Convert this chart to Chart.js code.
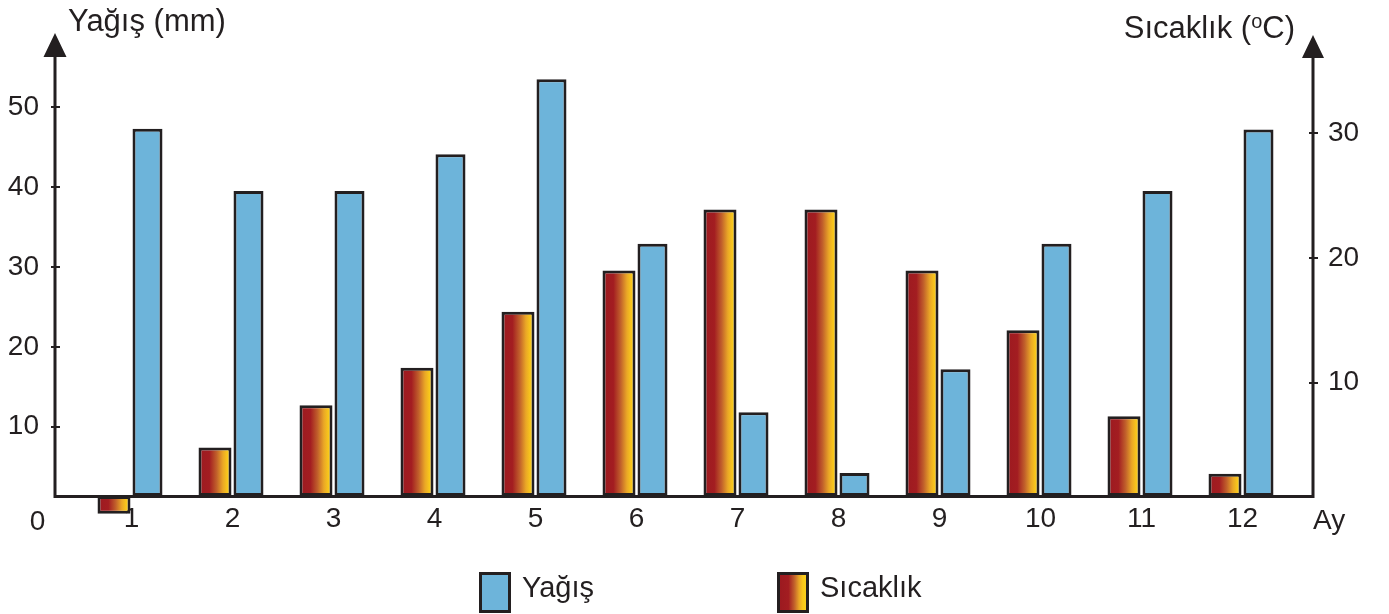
<!DOCTYPE html>
<html>
<head>
<meta charset="utf-8">
<script src="https://cdn.jsdelivr.net/npm/chart.js@4.4.1/dist/chart.umd.min.js"></script>
<style>
  html, body { margin: 0; padding: 0; background: #ffffff; }
  #wrap { position: relative; width: 1389px; height: 614px; overflow: hidden; }
  #c { position: absolute; left: 0; top: 0; }
  .lg-box { position: absolute; box-sizing: border-box; border: 3px solid #231f20; }
  .lg-text { position: absolute; font-family: 'Liberation Sans', Arial, sans-serif; font-size: 29px; line-height: 29px; color: #231f20; white-space: nowrap; }
</style>
</head>
<body>
<div id="wrap">
  <canvas id="c" width="1389" height="614"></canvas>
  <div id="legend"></div>
</div>
<script>
// ---- data ----
const monthLabels = ['1','2','3','4','5','6','7','8','9','10','11','12'];
const monthValues = [1,2,3,4,5,6,7,8,9,10,11,12];
const precipitation = [47.3, 39.5, 39.5, 44.1, 53.5, 32.9, 11.8, 4.2, 17.2, 32.9, 39.5, 47.2];
const temperature = [-0.5, 4.8, 8.2, 11.2, 15.7, 19.0, 23.9, 23.9, 19.0, 14.2, 7.3, 2.7];
const precipTicks = [10, 20, 30, 40, 50];
const tempTicks = [10, 20, 30];
const seriesNames = ['Yağış', 'Sıcaklık'];
const precipTitle = 'Yağış (mm)';
const tempTitleParts = ['Sıcaklık (', 'o', 'C)'];
const originLabel = '0';
const xAxisTitle = 'Ay';

// ---- style / scale geometry ----
const INK = '#231f20';
const BLUE = '#6db4da';
const FONT = "'Liberation Sans', Arial, Helvetica, sans-serif";
const precipMin = 1.315, precipMax = 56.29;
const tempMin = 0.914, tempMax = 36.12;
const tempCP = 70 / 101, tempBP = 33 / 35;
const precipCP = 64 / 101, precipBP = 30 / 32;
const gradStops = [[0, '#9c1a20'], [0.33, '#a31d21'], [0.55, '#c1602b'], [0.74, '#eaa726'], [0.88, '#f9c81b'], [1, '#fbd01a']];

function makeGrad(ctx2d, x0, x1) {
  const g = ctx2d.createLinearGradient(x0, 0, x1, 0);
  gradStops.forEach(s => g.addColorStop(s[0], s[1]));
  return g;
}

function tempFill(context) {
  const chart = context.chart;
  const xs = chart.scales && chart.scales.x;
  if (!xs || context.type !== 'data') return '#c0602b';
  const c = xs.getPixelForValue(monthValues[context.dataIndex]);
  const unit = xs.getPixelForValue(2) - xs.getPixelForValue(1);
  if (!isFinite(c) || !isFinite(unit) || unit <= 0) return '#c0602b';
  const chunk = unit * tempCP / 2;
  const w = chunk * tempBP;
  const left = c - chunk + (chunk - w) / 2;
  return makeGrad(chart.ctx, left, left + w);
}

const decor = {
  id: 'decor',
  afterDatasetsDraw(chart) {
    const { ctx, chartArea: a, scales } = chart;
    ctx.save();
    ctx.strokeStyle = INK;
    ctx.fillStyle = INK;
    ctx.lineCap = 'butt';
    ctx.lineWidth = 3;
    ctx.beginPath();
    ctx.moveTo(a.left, 52); ctx.lineTo(a.left, a.bottom + 0.5);
    ctx.moveTo(a.right, 52); ctx.lineTo(a.right, a.bottom + 0.5);
    ctx.moveTo(a.left - 1.5, a.bottom + 0.5); ctx.lineTo(a.right + 1.5, a.bottom + 0.5);
    ctx.stroke();
    ctx.beginPath();
    ctx.moveTo(a.left, 33); ctx.lineTo(a.left - 11.5, 57); ctx.lineTo(a.left + 11.5, 57); ctx.closePath();
    ctx.moveTo(a.right, 35); ctx.lineTo(a.right - 11, 58); ctx.lineTo(a.right + 11, 58); ctx.closePath();
    ctx.fill();
    ctx.lineWidth = 2;
    ctx.beginPath();
    precipTicks.forEach(v => {
      const y = Math.round(scales.y.getPixelForValue(v));
      ctx.moveTo(a.left - 4, y); ctx.lineTo(a.left + 5, y);
    });
    tempTicks.forEach(v => {
      const y = Math.round(scales.y2.getPixelForValue(v));
      ctx.moveTo(a.right - 4, y); ctx.lineTo(a.right + 5, y);
    });
    ctx.stroke();
    ctx.textBaseline = 'alphabetic';
    ctx.textAlign = 'left';
    ctx.font = '31px ' + FONT;
    ctx.fillText(precipTitle, 68, 31);
    const bigFont = '31px ' + FONT, smallFont = '20px ' + FONT;
    ctx.font = bigFont;
    const w0 = ctx.measureText(tempTitleParts[0]).width;
    const w2 = ctx.measureText(tempTitleParts[2]).width;
    ctx.font = smallFont;
    const w1 = ctx.measureText(tempTitleParts[1]).width;
    let x = 1295 - (w0 + w1 + w2);
    const base = 38;
    ctx.font = bigFont; ctx.fillText(tempTitleParts[0], x, base); x += w0;
    ctx.font = smallFont; ctx.fillText(tempTitleParts[1], x, base - 10); x += w1;
    ctx.font = bigFont; ctx.fillText(tempTitleParts[2], x, base);
    ctx.font = '28px ' + FONT;
    ctx.textAlign = 'center';
    ctx.fillText(originLabel, 37.5, 530);
    ctx.textAlign = 'left';
    ctx.fillText(xAxisTitle, 1313, 529);
    ctx.restore();
  }
};

const htmlLegend = {
  id: 'htmlLegend',
  afterUpdate(chart) {
    const host = document.getElementById('legend');
    host.innerHTML = '';
    const lefts = [479, 777];
    const order = [1, 0];
    order.forEach((di, k) => {
      const ds = chart.data.datasets[di];
      const box = document.createElement('div');
      box.className = 'lg-box';
      box.style.left = lefts[k] + 'px';
      box.style.top = '572px';
      box.style.width = '32px';
      box.style.height = '41px';
      if (di === 0) {
        box.style.background = 'linear-gradient(to right,' + gradStops.map(s => s[1] + ' ' + (s[0] * 100) + '%').join(',') + ')';
      } else {
        box.style.background = BLUE;
      }
      const t = document.createElement('div');
      t.className = 'lg-text';
      t.style.left = (lefts[k] + 43) + 'px';
      t.style.top = '573px';
      t.textContent = ds.label;
      host.appendChild(box);
      host.appendChild(t);
    });
  }
};

Chart.defaults.font.family = FONT;
Chart.defaults.color = INK;

new Chart(document.getElementById('c'), {
  type: 'bar',
  data: {
    datasets: [
      {
        label: seriesNames[1],
        data: monthValues.map((m, i) => ({ x: m, y: temperature[i] })),
        yAxisID: 'y2',
        base: tempMin,
        backgroundColor: tempFill,
        borderColor: INK,
        borderWidth: 3,
        borderSkipped: false,
        categoryPercentage: tempCP,
        barPercentage: tempBP,
        clip: false
      },
      {
        label: seriesNames[0],
        data: monthValues.map((m, i) => ({ x: m, y: precipitation[i] })),
        yAxisID: 'y',
        base: precipMin,
        backgroundColor: BLUE,
        borderColor: INK,
        borderWidth: 3,
        borderSkipped: false,
        categoryPercentage: precipCP,
        barPercentage: precipBP,
        clip: false
      }
    ]
  },
  options: {
    responsive: false,
    devicePixelRatio: 1,
    animation: false,
    layout: { padding: { top: 57, left: 0, right: 0, bottom: 0 } },
    plugins: {
      legend: { display: false },
      tooltip: { enabled: false },
      title: { display: false }
    },
    scales: {
      x: {
        type: 'linear',
        offset: false,
        min: 0.2426,
        max: 12.698,
        afterBuildTicks: s => { s.ticks = monthValues.map(v => ({ value: v })); },
        afterFit: s => { s.height = 118; },
        grid: { display: false, drawTicks: false },
        border: { display: false },
        ticks: {
          autoSkip: false,
          maxRotation: 0,
          padding: 6,
          color: INK,
          font: { size: 28 },
          callback: (v, i) => monthLabels[i]
        }
      },
      y: {
        position: 'left',
        min: precipMin,
        max: precipMax,
        afterBuildTicks: s => { s.ticks = precipTicks.map(v => ({ value: v })); },
        afterFit: s => { s.width = 55; },
        grid: { display: false, drawTicks: false },
        border: { display: false },
        ticks: { padding: 16, color: INK, font: { size: 28 } }
      },
      y2: {
        position: 'right',
        min: tempMin,
        max: tempMax,
        afterBuildTicks: s => { s.ticks = tempTicks.map(v => ({ value: v })); },
        afterFit: s => { s.width = 76; },
        grid: { display: false, drawTicks: false },
        border: { display: false },
        ticks: { padding: 15, color: INK, font: { size: 28 } }
      }
    }
  },
  plugins: [decor, htmlLegend]
});
</script>
</body>
</html>
